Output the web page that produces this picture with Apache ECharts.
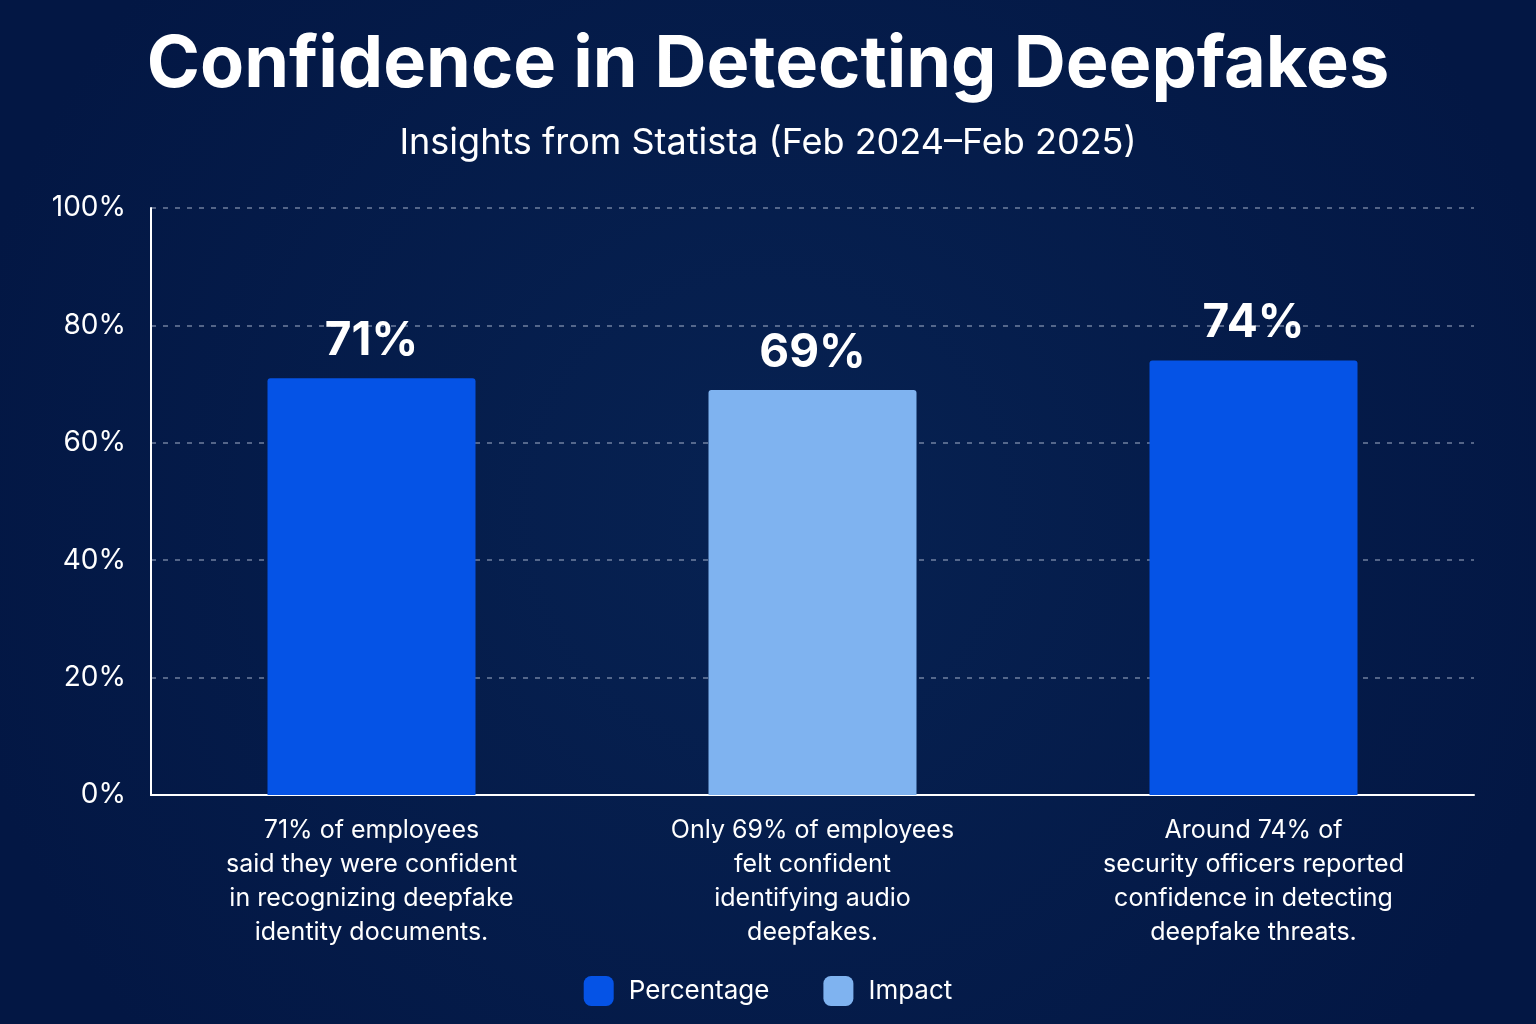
<!DOCTYPE html>
<html>
<head>
<meta charset="utf-8">
<title>Confidence in Detecting Deepfakes</title>
<script src="https://cdn.jsdelivr.net/npm/echarts@6/dist/echarts.min.js"></script>
<style>
  html, body { margin: 0; padding: 0; background: #041a48; }
  #chart { width: 1536px; height: 1024px; }
</style>
</head>
<body>
<div id="chart"></div>
<script>
const categories = [
    '71% of employees\nsaid they were confident\nin recognizing deepfake\nidentity documents.',
    'Only 69% of employees\nfelt confident\nidentifying audio\ndeepfakes.',
    'Around 74% of\nsecurity officers reported\nconfidence in detecting\ndeepfake threats.'
];
const values = [71, 69, 74];
const groups = ['Percentage', 'Impact', 'Percentage'];
const legendNames = ['Percentage', 'Impact'];
const colors = { Percentage: '#0553e6', Impact: '#7fb3f0' };

const chart = echarts.init(document.getElementById('chart'));

// one series per legend entry, overlapped so every bar stays centred on its category
const series = legendNames.map(function (name) {
    return {
        name: name,
        type: 'bar',
        barWidth: 208,
        barGap: '-100%',
        data: values.map(function (v, i) { return groups[i] === name ? v : '-'; }),
        itemStyle: { color: colors[name], borderRadius: [3, 3, 0, 0] },
        label: {
            show: true,
            position: 'top',
            distance: 14,
            formatter: '{c}%',
            color: '#ffffff',
            fontSize: 46,
            fontWeight: 'bold',
            fontFamily: 'Inter'
        }
    };
});

const option = {
    backgroundColor: {
        type: 'radial', x: 0.5, y: 0.5, r: 0.8,
        colorStops: [{ offset: 0, color: '#072252' }, { offset: 1, color: '#031744' }]
    },
    textStyle: { fontFamily: 'Inter' },
    title: {
        text: 'Confidence in Detecting Deepfakes',
        subtext: 'Insights from Statista (Feb 2024\u2013Feb 2025)',
        left: 'center',
        top: 24,
        itemGap: 24,
        textStyle: { color: '#ffffff', fontSize: 72, fontWeight: 'bold', fontFamily: 'Inter' },
        subtextStyle: { color: '#ffffff', fontSize: 36, fontFamily: 'Inter' }
    },
    legend: {
        data: legendNames,
        bottom: 13,
        left: 'center',
        icon: 'roundRect',
        itemWidth: 30,
        itemHeight: 30,
        itemGap: 54,
        textStyle: { color: '#ffffff', fontSize: 26, fontFamily: 'Inter', padding: [0, 0, 0, 10] }
    },
    grid: { left: 151, right: 62, top: 208, bottom: 229 },
    xAxis: {
        type: 'category',
        data: categories,
        axisLine: { lineStyle: { color: '#ffffff', width: 2 } },
        axisTick: { show: false },
        axisLabel: {
            color: '#ffffff',
            fontSize: 25,
            lineHeight: 34,
            margin: 18,
            fontFamily: 'Inter',
            interval: 0
        }
    },
    yAxis: {
        type: 'value',
        min: 0,
        max: 100,
        interval: 20,
        axisLine: { show: true, lineStyle: { color: '#ffffff', width: 2 } },
        axisTick: { show: false },
        axisLabel: {
            formatter: '{value}%',
            color: '#ffffff',
            fontSize: 28,
            margin: 25,
            fontFamily: 'Inter'
        },
        splitLine: {
            lineStyle: { color: 'rgba(200,210,230,0.55)', type: [5, 7], width: 1.5 }
        }
    },
    series: series
};

chart.setOption(option);
</script>
</body>
</html>
